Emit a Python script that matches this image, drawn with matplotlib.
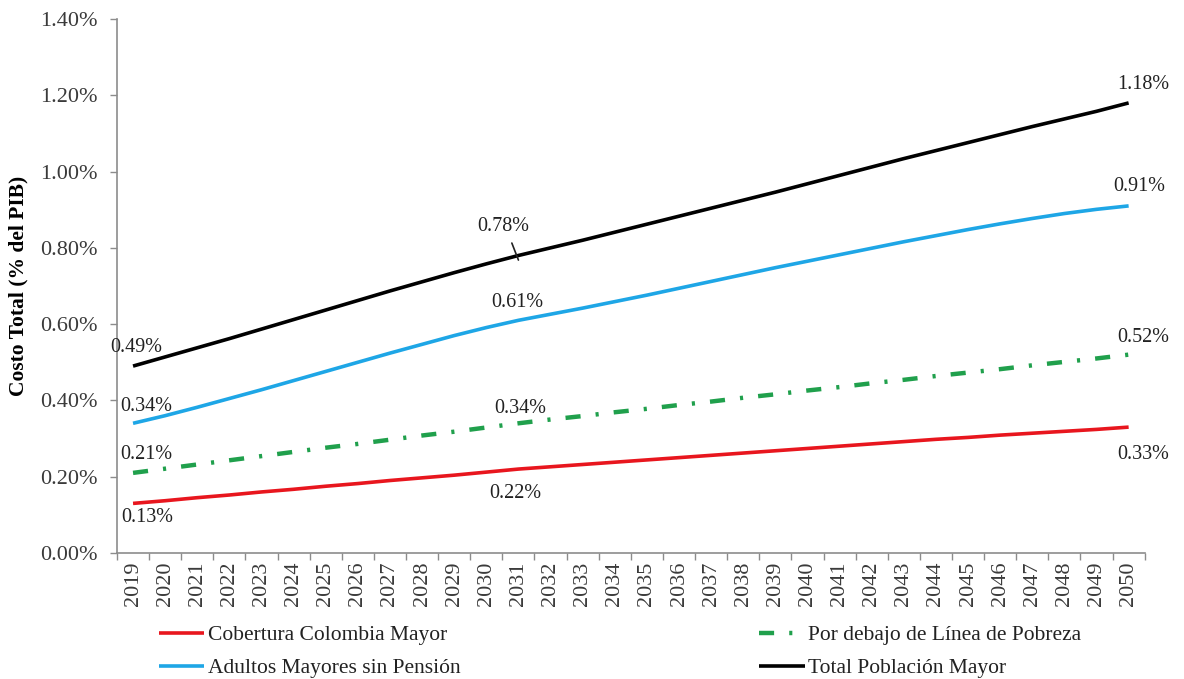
import numpy as np
import matplotlib.pyplot as plt
from matplotlib.ticker import FixedLocator, FuncFormatter

plt.rcParams['font.family'] = ['Liberation Serif', 'DejaVu Serif']

# Years and cost series (% of GDP)
years = list(range(2019, 2051))
cobertura = [0.130, 0.137, 0.145, 0.152, 0.160, 0.167, 0.175, 0.182, 0.190, 0.197,
             0.204, 0.212, 0.220, 0.226, 0.232, 0.238, 0.244, 0.250, 0.256, 0.262,
             0.268, 0.274, 0.280, 0.286, 0.292, 0.298, 0.303, 0.309, 0.314, 0.319,
             0.324, 0.330]
pobreza = [0.210, 0.221, 0.232, 0.243, 0.254, 0.265, 0.276, 0.286, 0.297, 0.308,
           0.318, 0.329, 0.340, 0.350, 0.359, 0.369, 0.378, 0.388, 0.397, 0.407,
           0.416, 0.426, 0.435, 0.445, 0.454, 0.464, 0.473, 0.482, 0.492, 0.501,
           0.510, 0.520]
adultos = [0.340, 0.360, 0.382, 0.405, 0.428, 0.452, 0.476, 0.500, 0.524, 0.547,
           0.570, 0.591, 0.610, 0.626, 0.642, 0.659, 0.676, 0.694, 0.712, 0.730,
           0.748, 0.765, 0.782, 0.799, 0.816, 0.832, 0.848, 0.863, 0.877, 0.890,
           0.901, 0.910]
total = [0.490, 0.514, 0.538, 0.562, 0.587, 0.612, 0.637, 0.662, 0.687, 0.711,
         0.735, 0.758, 0.780, 0.800, 0.820, 0.841, 0.862, 0.883, 0.904, 0.925,
         0.946, 0.968, 0.990, 1.012, 1.034, 1.055, 1.076, 1.097, 1.118, 1.138,
         1.158, 1.180]

series_names = ['Cobertura Colombia Mayor', 'Adultos Mayores sin Pensión',
                'Por debajo de Línea de Pobreza', 'Total Población Mayor']

fig = plt.figure(figsize=(11.84, 6.79), dpi=100)
ax = fig.add_axes([0.0988, 0.1856, 0.868, 0.7864])

x = np.arange(len(years))
l_red, = ax.plot(x, cobertura, color='#e8161e', lw=2.6, solid_capstyle='butt')
l_green, = ax.plot(x, pobreza, color='#20a04c', lw=3.2,
                   linestyle=(0, (3.4, 3.4, 0.7, 3.4)))
l_blue, = ax.plot(x, adultos, color='#1ea6e6', lw=2.6, solid_capstyle='butt')
l_black, = ax.plot(x, total, color='black', lw=2.6, solid_capstyle='butt')

ax.set_xlim(-0.5, len(years) - 0.5)
ax.set_ylim(0, 1.4)

# y axis
ax.yaxis.set_major_locator(FixedLocator(np.arange(0, 1.41, 0.2)))
ax.yaxis.set_major_formatter(FuncFormatter(lambda v, p: f'{v:.2f}%'))
ax.tick_params(axis='y', labelsize=16, labelcolor='#3a3a3a', color='#8c8c8c',
               length=5, width=1, pad=9)

# x axis: labels at category centres, tick marks between categories
ax.set_xticks(x)
ax.set_xticklabels([str(y) for y in years], rotation=90, fontsize=16,
                   color='#3a3a3a')
ax.set_xticks(np.arange(-0.5, len(years)), minor=True)
ax.tick_params(axis='x', which='major', length=0, pad=6)
ax.tick_params(axis='x', which='minor', length=5, color='#8c8c8c', width=1)

for side in ['top', 'right']:
    ax.spines[side].set_visible(False)
for side in ['left', 'bottom']:
    ax.spines[side].set_color('#8c8c8c')
    ax.spines[side].set_linewidth(1.2)

ax.set_ylabel('Costo Total (% del PIB)', fontsize=15.5, fontweight='bold', labelpad=8)

# value labels: start, middle (2031) and end
i_mid = years.index(2031)
lab = dict(fontsize=14.5, color='#222222', va='center')

ax.text(-0.72, total[0] + 0.05, f'{total[0]:.2f}%', ha='left', **lab)
ax.text(-0.41, adultos[0] + 0.043, f'{adultos[0]:.2f}%', ha='left', **lab)
ax.text(-0.41, pobreza[0] + 0.047, f'{pobreza[0]:.2f}%', ha='left', **lab)
ax.text(-0.38, cobertura[0] - 0.036, f'{cobertura[0]:.2f}%', ha='left', **lab)

ax.annotate(f'{total[i_mid]:.2f}%', xy=(i_mid, total[i_mid] - 0.012),
            xytext=(i_mid - 0.48, total[i_mid] + 0.075), ha='center',
            arrowprops=dict(arrowstyle='-', color='#222222', lw=1.2,
                            relpos=(0.62, 0.0), shrinkA=3, shrinkB=0), **lab)
ax.text(i_mid - 0.02, adultos[i_mid] + 0.048, f'{adultos[i_mid]:.2f}%',
        ha='center', **lab)
ax.text(i_mid + 0.05, pobreza[i_mid] + 0.04, f'{pobreza[i_mid]:.2f}%',
        ha='center', **lab)
ax.text(i_mid - 0.1, cobertura[i_mid] - 0.063, f'{cobertura[i_mid]:.2f}%',
        ha='center', **lab)

n = len(years) - 1
ax.text(n + 0.46, total[-1] + 0.049, f'{total[-1]:.2f}%', ha='center', **lab)
ax.text(n + 0.34, adultos[-1] + 0.052, f'{adultos[-1]:.2f}%', ha='center', **lab)
ax.text(n + 0.46, pobreza[-1] + 0.044, f'{pobreza[-1]:.2f}%', ha='center', **lab)
ax.text(n + 0.46, cobertura[-1] - 0.073, f'{cobertura[-1]:.2f}%', ha='center', **lab)

fig.legend([l_red, l_blue, l_green, l_black], series_names, ncol=2,
           loc='upper left', bbox_to_anchor=(0.118, 0.108), frameon=False,
           fontsize=15.5, handlelength=2.1, handletextpad=0.15,
           columnspacing=13.9, labelspacing=0.6, labelcolor='#222222')

fig.savefig('out.png', dpi=100)
